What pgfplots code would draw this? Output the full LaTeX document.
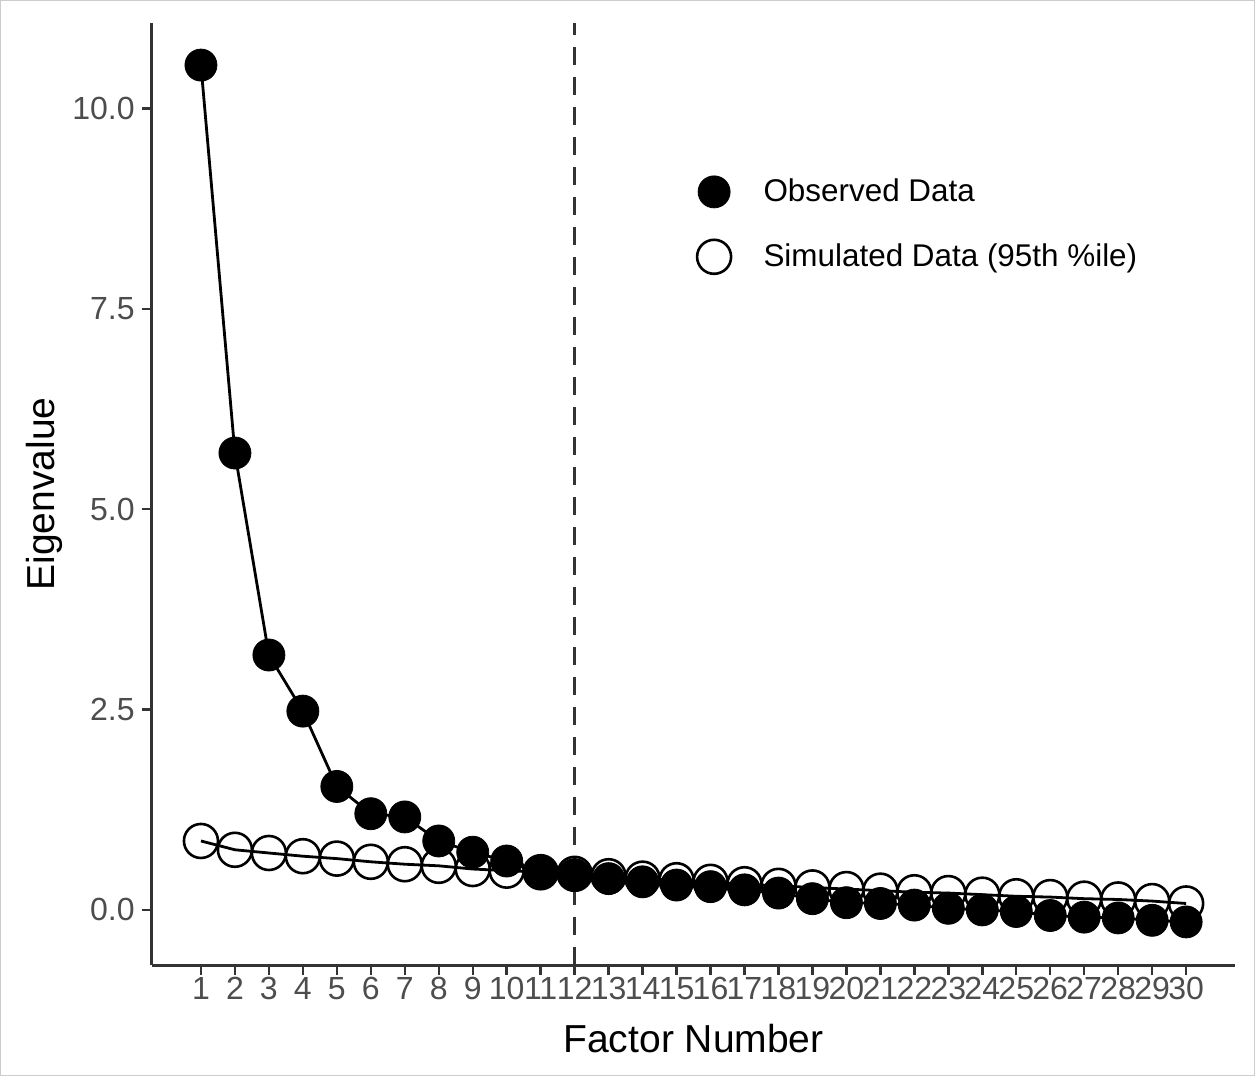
\documentclass[border=0pt]{standalone}
\usepackage{pgfplots}
\pgfplotsset{compat=1.18}
\usepackage{pgfplotstable}
\usepackage{fontspec}
\setmainfont{Liberation Sans}

\definecolor{tickgray}{HTML}{4D4D4D}
\definecolor{axgray}{HTML}{333333}

\pgfplotstableread{
x y
1 10.54
2 5.70
3 3.18
4 2.48
5 1.54
6 1.20
7 1.16
8 0.86
9 0.72
10 0.61
11 0.47
12 0.44
13 0.39
14 0.35
15 0.31
16 0.29
17 0.25
18 0.21
19 0.14
20 0.09
21 0.08
22 0.06
23 0.02
24 0.00
25 -0.02
26 -0.07
27 -0.09
28 -0.10
29 -0.13
30 -0.15
}\observed

\pgfplotstableread{
x y
1 0.86
2 0.75
3 0.71
4 0.67
5 0.64
6 0.60
7 0.57
8 0.55
9 0.51
10 0.49
11 0.47
12 0.45
13 0.42
14 0.39
15 0.37
16 0.35
17 0.32
18 0.30
19 0.28
20 0.26
21 0.24
22 0.22
23 0.21
24 0.19
25 0.17
26 0.16
27 0.14
28 0.13
29 0.11
30 0.08
}\simulated

\begin{document}
\begin{tikzpicture}
\begin{axis}[
    name=ax,
    scale only axis,
    width=541.5pt, height=471pt,
    xmin=-0.45, xmax=31.45,
    ymin=-0.69, ymax=11.07,
    axis lines=left,
    axis line style={axgray, line width=1.4pt, -},
    tick style={axgray, line width=1.2pt},
    tick align=outside,
    major tick length=5pt,
    xtick={1,2,...,30},
    ytick={0,2.5,5,7.5,10},
    yticklabel style={/pgf/number format/fixed, /pgf/number format/fixed zerofill, /pgf/number format/precision=1},
    /pgf/number format/assume math mode=true,
    ticklabel style={font=\fontsize{16}{18}\selectfont, text=tickgray},
    xticklabel style={inner sep=1pt},
    xlabel={Factor Number},
    ylabel={Eigenvalue},
    label style={font=\fontsize{19.5}{22}\selectfont},
    xlabel style={at={([yshift=-36.5pt]axis description cs:0.5,0)}, anchor=center},
    ylabel style={at={([xshift=-53.5pt]axis description cs:0,0.5)}, anchor=center},
    clip=false,
    legend style={
        at={(rel axis cs:0.497,0.843)}, anchor=north west,
        draw=none, fill=none,
        font=\fontsize{15.7}{18}\selectfont,
        row sep=15.5pt,
        legend cell align=left,
    },
    legend image code/.code={
        \path (0pt,0pt) (31pt,0pt);
        \draw[#1] plot coordinates {(8.5pt,0pt)};
    },
]
% observed eigenvalues
\addplot[black, line width=1.4pt, forget plot] table {\observed};
\addplot[only marks, mark=*, mark size=8pt, black] table {\observed};
\addlegendentry{Observed Data}
% simulated 95th percentile
\addplot[black, line width=1.4pt, forget plot] table {\simulated};
\addplot[only marks, mark=o, mark size=8.5pt, black, mark options={line width=1.3pt}] table {\simulated};
\addlegendentry{Simulated Data (95th \%ile)}
% retained factors cut-off
\draw[axgray, line width=1.3pt, dash pattern=on 9pt off 6pt] (axis cs:12,-0.69) -- (axis cs:12,11.07);
\end{axis}
\draw[black!20, line width=0.6pt] ([shift={(-75.5pt,-55pt)}]ax.south west) rectangle ([shift={(9.5pt,11pt)}]ax.north east);
\end{tikzpicture}
\end{document}
